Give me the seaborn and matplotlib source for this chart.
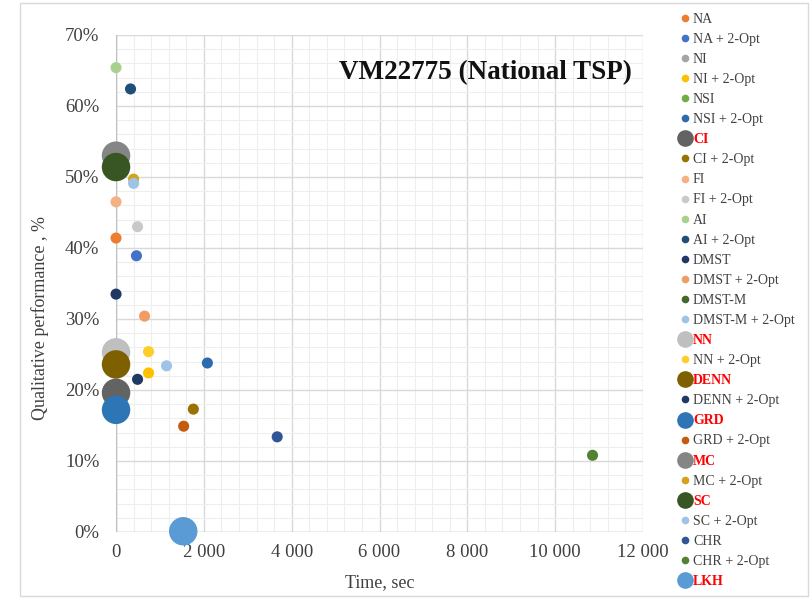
import numpy as np
import pandas as pd
import matplotlib
matplotlib.use("Agg")
import matplotlib.pyplot as plt
import seaborn as sns
from matplotlib.ticker import FuncFormatter, MultipleLocator
from matplotlib.lines import Line2D
from matplotlib.patches import Rectangle

methods = ['NA', 'NA + 2-Opt', 'NI', 'NI + 2-Opt', 'NSI', 'NSI + 2-Opt', 'CI', 'CI + 2-Opt',
           'FI', 'FI + 2-Opt', 'AI', 'AI + 2-Opt', 'DMST', 'DMST + 2-Opt', 'DMST-M',
           'DMST-M + 2-Opt', 'NN', 'NN + 2-Opt', 'DENN', 'DENN + 2-Opt', 'GRD', 'GRD + 2-Opt',
           'MC', 'MC + 2-Opt', 'SC', 'SC + 2-Opt', 'CHR', 'CHR + 2-Opt', 'LKH']
time_sec = [0, 465, 0, 740, 0, 2080, 0, 1760,
            0, 490, 0, 330, 0, 650, 0,
            1150, 0, 740, 0, 490, 0, 1540,
            0, 400, 0, 400, 3670, 10850, 1530]
quality = [41.4, 38.9, 53.0, 22.4, 26.3, 23.8, 19.6, 17.3,
           46.5, 43.0, 65.4, 62.4, 33.5, 30.4, 51.5,
           23.4, 25.3, 25.4, 23.6, 21.5, 17.2, 14.9,
           53.0, 49.7, 51.4, 49.1, 13.4, 10.8, 0.1]
highlight = ['CI', 'NN', 'DENN', 'GRD', 'MC', 'SC', 'LKH']
colors = ['#ED7D31', '#4472C4', '#A5A5A5', '#FFC000', '#70AD47', '#2E6BAE', '#636363', '#997300',
          '#F4B183', '#C9C9C9', '#A9D18E', '#1F4E79', '#203864', '#F19C64', '#43682B',
          '#9DC3E6', '#BFBFBF', '#FFCD28', '#7F6000', '#1F3864', '#2E75B6', '#C55A11',
          '#858585', '#D6A21A', '#375623', '#9DC3E6', '#2F5597', '#548235', '#5B9BD5']

df = pd.DataFrame({'method': methods, 'time': time_sec, 'q': np.array(quality) / 100})
df['big'] = df['method'].isin(highlight).map({True: 'big', False: 'small'})
palette = dict(zip(methods, colors))

fig = plt.figure(figsize=(8.12, 5.99), dpi=100)
ax = fig.add_axes([0.1429, 0.1119, 0.649, 0.8297])

sns.scatterplot(data=df, x='time', y='q', hue='method', hue_order=methods, palette=palette,
                size='big', sizes={'big': 420, 'small': 64}, size_order=['big', 'small'],
                linewidth=0, alpha=1, legend=False, ax=ax, zorder=3)
for coll in ax.collections:
    coll.set_clip_on(False)

ax.set_xlim(0, 12000)
ax.set_ylim(0, 0.70)
ax.xaxis.set_major_locator(MultipleLocator(2000))
ax.xaxis.set_minor_locator(MultipleLocator(400))
ax.yaxis.set_major_locator(MultipleLocator(0.10))
ax.yaxis.set_minor_locator(MultipleLocator(0.02))
ax.xaxis.set_major_formatter(FuncFormatter(lambda v, p: f'{int(v):,}'.replace(',', ' ')))
ax.yaxis.set_major_formatter(FuncFormatter(lambda v, p: f'{v * 100:.0f}%'))
ax.grid(which='major', color='#D9D9D9', lw=1.0, zorder=0)
ax.grid(which='minor', color='#EEEEEE', lw=0.8, zorder=0)
ax.set_axisbelow(True)
ax.tick_params(which='both', length=0)
ax.tick_params(axis='y', pad=12)
ax.tick_params(axis='x', pad=9)
for lab in ax.get_xticklabels() + ax.get_yticklabels():
    lab.set_fontfamily('Liberation Serif')
    lab.set_fontsize(13.5)
    lab.set_color('#404040')
for s in ax.spines.values():
    s.set_visible(False)
ax.axvline(0, color='#BFBFBF', lw=1.0, zorder=1)
ax.axhline(0, color='#BFBFBF', lw=1.0, zorder=1)

ax.set_xlabel('Time, sec', fontfamily='Liberation Serif', fontsize=13, color='#404040')
ax.set_ylabel('Qualitative performance , %', fontfamily='Liberation Serif', fontsize=13,
              color='#404040')
ax.xaxis.set_label_coords(0.5, -0.085)
ax.yaxis.set_label_coords(-0.128, 0.43)
ax.text(0.979, 0.925, 'VM22775 (National TSP)', transform=ax.transAxes, ha='right', va='center',
        fontfamily='Liberation Serif', fontweight='bold', fontsize=19.5, color='#111111')

# legend
handles = []
for m, c in zip(methods, colors):
    ms = 12 if m in highlight else 5.5
    handles.append(Line2D([], [], marker='o', ls='', color=c, markersize=ms, markeredgewidth=0))
leg = fig.legend(handles, methods, loc='upper left', bbox_to_anchor=(0.826, 0.995),
                 frameon=False, prop={'family': 'Liberation Serif', 'size': 10},
                 labelspacing=0.51, handlelength=0.6, handletextpad=0.3, borderpad=0.2)
for t in leg.get_texts():
    if t.get_text() in highlight:
        t.set_color('#FF0000')
        t.set_fontweight('bold')
    else:
        t.set_color('#404040')

fig.patches.append(Rectangle((20 / 812, 3 / 599), 788 / 812, 593 / 599, transform=fig.transFigure,
                             fill=False, edgecolor='#D9D9D9', lw=1.0))

fig.savefig('out.png', dpi=100)
